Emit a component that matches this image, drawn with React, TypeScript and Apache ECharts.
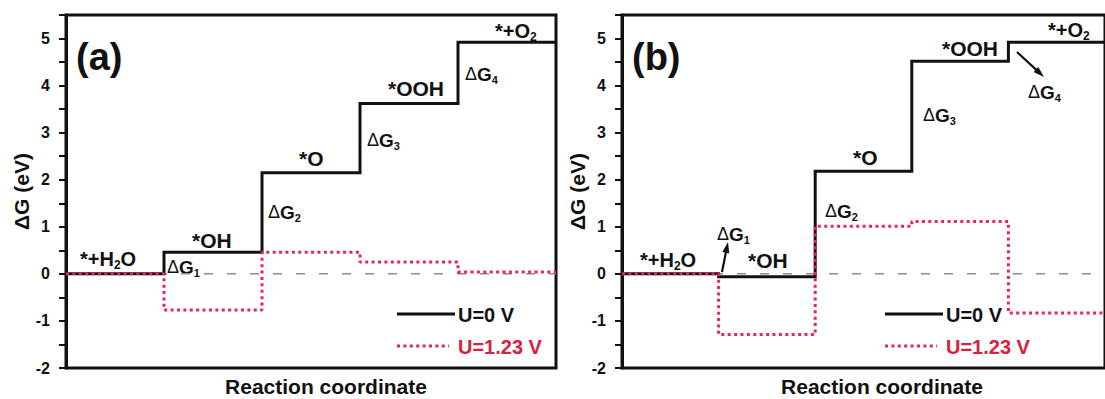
import React, { useEffect, useRef } from 'react';
import * as echarts from 'echarts';

// Free-energy levels (eV) of the five OER stages: *+H2O, *OH, *O, *OOH, *+O2
const stageCount = 5;
const levelsA0 = [0, 0.46, 2.15, 3.62, 4.92];
const levelsA123 = [0, -0.77, 0.46, 0.25, 0.04];
const levelsB0 = [0, -0.06, 2.18, 4.52, 4.92];
const levelsB123 = [0, -1.29, 1.01, 1.11, -0.83];

// Energy axis
const yMin = -2;
const yMax = 5.5;
const yStep = 0.5;

const seriesNames = ['U=0 V', 'U=1.23 V'];
const yAxisTitle = 'ΔG (eV)';
const xAxisTitle = 'Reaction coordinate';

const FONT = '"Liberation Sans", Arial, Helvetica, sans-serif';
const BLACK = '#111111';
const RED = '#e8245a';
const RED_TEXT = '#d8203f';
const GREY = '#8c8c8c';
const RED_DASH = [3, 3.4];

// one point per stage plus the right end; drawn with step: 'end'
function steps(levels: number[]) {
  const pts = levels.map((v, i) => [i, v]);
  pts.push([levels.length, levels[levels.length - 1]]);
  return pts;
}

function label(text: string, x: number, y: number, size: number, align = 'left', color = BLACK) {
  const sub = Math.round(size * 0.6);
  return {
    type: 'text',
    x,
    y,
    silent: true,
    style: {
      text,
      fill: color,
      fontSize: size,
      fontWeight: 'bold',
      fontFamily: FONT,
      align,
      textAlign: align,
      verticalAlign: 'middle',
      textVerticalAlign: 'middle',
      rich: {
        t: { fill: color, fontSize: size, fontWeight: 'bold', fontFamily: FONT, lineHeight: size + 4 },
        d: { fill: color, fontSize: size - 1, fontWeight: 'normal', fontFamily: FONT, lineHeight: size + 4 },
        s: { fill: color, fontSize: sub, fontWeight: 'bold', fontFamily: FONT, lineHeight: sub + 2, verticalAlign: 'bottom' },
      },
    },
  };
}

function arrow(x1: number, y1: number, x2: number, y2: number) {
  const dx = x2 - x1;
  const dy = y2 - y1;
  const len = Math.sqrt(dx * dx + dy * dy);
  const ux = dx / len;
  const uy = dy / len;
  const head = 11;
  const half = 3.5;
  const bx = x2 - ux * head;
  const by = y2 - uy * head;
  return [
    {
      type: 'line',
      silent: true,
      shape: { x1, y1, x2: bx + ux * 2, y2: by + uy * 2 },
      style: { stroke: BLACK, lineWidth: 2.2 },
    },
    {
      type: 'polygon',
      silent: true,
      shape: {
        points: [
          [x2, y2],
          [bx - uy * half, by + ux * half],
          [bx + uy * half, by - ux * half],
        ],
      },
      style: { fill: BLACK },
    },
  ];
}

// key for the two potentials, drawn as line samples with their names
function legendKey(left: number) {
  const x2 = left + 58;
  return [
    {
      type: 'line',
      silent: true,
      shape: { x1: left, y1: 314, x2, y2: 314 },
      style: { stroke: BLACK, lineWidth: 3 },
    },
    label(seriesNames[0], x2 + 3, 315, 20),
    {
      type: 'line',
      silent: true,
      shape: { x1: left, y1: 346, x2: x2 - 6, y2: 346 },
      style: { stroke: RED, lineWidth: 3, lineDash: RED_DASH },
    },
    label(seriesNames[1], x2 + 3, 347, 20, 'left', RED_TEXT),
  ];
}

function yAxis(gridIndex: number) {
  return {
    type: 'value',
    gridIndex,
    min: yMin,
    max: yMax,
    interval: yStep,
    axisLine: { show: true, lineStyle: { color: BLACK, width: 3 } },
    axisTick: { show: true, length: 7, lineStyle: { color: BLACK, width: 2 } },
    axisLabel: {
      formatter: (v: number) => (Number.isInteger(v) ? String(v) : ''),
      color: BLACK,
      fontSize: 16,
      fontWeight: 'bold',
      fontFamily: FONT,
      margin: 16,
    },
    splitLine: { show: false },
    name: yAxisTitle,
    nameLocation: 'middle',
    nameGap: 33,
    nameTextStyle: { color: BLACK, fontSize: 21, fontWeight: 'bold', fontFamily: FONT },
  };
}

function xAxis(gridIndex: number) {
  return { type: 'value', gridIndex, min: 0, max: stageCount, show: false };
}

function panelSeries(idx: number, u0: number[], u123: number[]) {
  return [
    {
      type: 'line',
      xAxisIndex: idx,
      yAxisIndex: idx,
      data: [[0, 0], [stageCount, 0]],
      symbol: 'none',
      silent: true,
      z: 1,
      lineStyle: { color: GREY, width: 1.5, type: [9, 14] },
    },
    {
      name: seriesNames[0],
      type: 'line',
      step: 'end',
      xAxisIndex: idx,
      yAxisIndex: idx,
      data: steps(u0),
      symbol: 'none',
      silent: true,
      z: 2,
      itemStyle: { color: BLACK },
      lineStyle: { color: BLACK, width: 3, join: 'miter' },
    },
    {
      name: seriesNames[1],
      type: 'line',
      step: 'end',
      xAxisIndex: idx,
      yAxisIndex: idx,
      data: steps(u123),
      symbol: 'none',
      silent: true,
      z: 3,
      itemStyle: { color: RED },
      lineStyle: { color: RED, width: 3, type: RED_DASH },
    },
  ];
}

export default function App() {
  const ref = useRef<HTMLDivElement>(null);

  useEffect(() => {
    if (!ref.current) return;
    const chart = echarts.init(ref.current, undefined, { renderer: 'svg' });

    const graphic: any[] = [
      // panel (a)
      label('(a)', 76, 57, 38),
      label('{t|*+H}{s|2}{t|O}', 80, 259, 20),
      label('{t|*OH}', 192, 240, 21),
      label('{d|Δ}{t|G}{s|1}', 167, 267, 19),
      label('{d|Δ}{t|G}{s|2}', 268, 212, 19),
      label('{t|*O}', 299, 158, 21),
      label('{d|Δ}{t|G}{s|3}', 367, 140, 19),
      label('{t|*OOH}', 388, 88, 21),
      label('{d|Δ}{t|G}{s|4}', 465, 74, 19),
      label('{t|*+O}{s|2}', 495, 31, 20),
      label(xAxisTitle, 326, 386, 21, 'center'),
      ...legendKey(397),
      // panel (b)
      label('(b)', 632, 57, 38),
      label('{t|*+H}{s|2}{t|O}', 640, 260, 20),
      label('{d|Δ}{t|G}{s|1}', 717, 234, 19),
      label('{t|*OH}', 748, 260, 21),
      label('{d|Δ}{t|G}{s|2}', 825, 211, 19),
      label('{t|*O}', 853, 157, 21),
      label('{d|Δ}{t|G}{s|3}', 923, 115, 19),
      label('{t|*OOH}', 942, 48, 21),
      label('{d|Δ}{t|G}{s|4}', 1028, 92, 19),
      label('{t|*+O}{s|2}', 1048, 30, 20),
      label(xAxisTitle, 882, 386, 21, 'center'),
      ...legendKey(885),
      ...arrow(722, 272, 728, 242),
      ...arrow(1017, 52, 1044, 77),
    ];

    chart.setOption({
      animation: false,
      backgroundColor: '#ffffff',
      grid: [
        { left: 66, top: 15, width: 490, height: 353, show: true, borderColor: BLACK, borderWidth: 3 },
        { left: 622, top: 15, width: 490, height: 353, show: true, borderColor: BLACK, borderWidth: 3 },
      ],
      xAxis: [xAxis(0), xAxis(1)],
      yAxis: [yAxis(0), yAxis(1)],
      series: [...panelSeries(0, levelsA0, levelsA123), ...panelSeries(1, levelsB0, levelsB123)],
      graphic,
    });

    return () => chart.dispose();
  }, []);

  return (
    <div
      ref={ref}
      style={{ position: 'absolute', left: 0, top: 0, width: 1105, height: 399, background: '#fff' }}
    />
  );
}
